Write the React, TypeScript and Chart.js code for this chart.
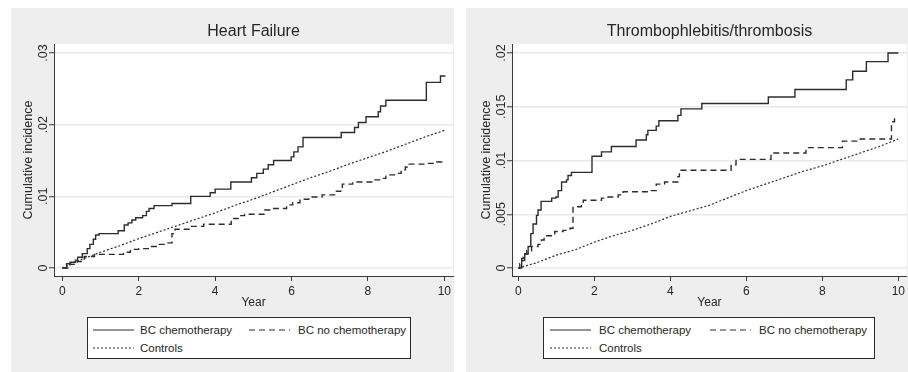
import React, { useEffect, useRef } from "react";
import { Chart, registerables } from "chart.js";

Chart.register(...registerables);

const FONT = '"Liberation Sans", Arial, Helvetica, sans-serif';
const INK = "#262626";
const AXIS = "#3a3a3a";

// ---------- shared axis data ----------
const xTicks = [0, 2, 4, 6, 8, 10];
const xTickLabels = ["0", "2", "4", "6", "8", "10"];
const seriesNames = ["BC chemotherapy", "BC no chemotherapy", "Controls"];
const xTitle = "Year";
const yTitle = "Cumulative incidence";

// ---------- Heart Failure ----------
const hfTitle = "Heart Failure";
const hfYTicks = [0, 0.01, 0.02, 0.03];
const hfYTickLabels = ["0", ".01", ".02", ".03"];

const hfChemoT = [0, 0.11, 0.2, 0.34, 0.4, 0.52, 0.65, 0.72, 0.81, 0.87, 0.96, 1.46, 1.62, 1.72, 1.82, 1.92, 2.1, 2.2, 2.27, 2.4, 2.87, 3.36, 3.87, 4.0, 4.41, 4.95, 5.09, 5.26, 5.39, 5.53, 5.99, 6.06, 6.17, 6.3, 7.3, 7.65, 7.75, 7.95, 8.27, 8.33, 8.47, 9.53, 9.9, 10.03];
const hfChemoV = [0, 0.0006, 0.0008, 0.0011, 0.0015, 0.002, 0.0027, 0.0033, 0.004, 0.0046, 0.0048, 0.0052, 0.006, 0.0063, 0.0067, 0.007, 0.0073, 0.0079, 0.0083, 0.0087, 0.009, 0.01, 0.0105, 0.011, 0.012, 0.0126, 0.0132, 0.0138, 0.0144, 0.015, 0.0155, 0.0162, 0.0169, 0.0182, 0.0189, 0.0196, 0.0203, 0.0211, 0.0218, 0.0226, 0.0234, 0.0259, 0.0268, 0.0268];

const hfNoChemoT = [0, 0.2, 0.39, 0.57, 0.84, 1.6, 1.78, 2.0, 2.27, 2.54, 2.7, 2.87, 2.95, 3.35, 3.7, 4.42, 4.6, 4.77, 5.3, 5.45, 5.87, 6.03, 6.22, 6.45, 6.8, 7.15, 7.29, 7.33, 7.6, 8.1, 8.36, 8.47, 8.78, 8.87, 8.98, 9.03, 9.53, 9.8, 10.0];
const hfNoChemoV = [0, 0.0005, 0.0009, 0.0016, 0.0019, 0.0022, 0.0026, 0.0027, 0.003, 0.0033, 0.0035, 0.0048, 0.0054, 0.0058, 0.0061, 0.0069, 0.0073, 0.0075, 0.0081, 0.0083, 0.0088, 0.0091, 0.0096, 0.0099, 0.0102, 0.0107, 0.011, 0.0117, 0.012, 0.0123, 0.0125, 0.013, 0.0132, 0.0137, 0.0141, 0.0145, 0.0146, 0.0148, 0.015];

const hfControlsT = [0, 0.5, 1, 1.5, 2, 2.5, 3, 3.5, 4, 4.5, 5, 5.5, 6, 6.5, 7, 7.5, 8, 8.5, 9, 9.5, 10];
const hfControlsV = [0, 0.0012, 0.0022, 0.0031, 0.0041, 0.005, 0.0059, 0.0068, 0.0077, 0.0087, 0.0096, 0.0106, 0.0116, 0.0126, 0.0135, 0.0145, 0.0154, 0.0163, 0.0173, 0.0183, 0.0192];

// ---------- Thrombophlebitis/thrombosis ----------
const thTitle = "Thrombophlebitis/thrombosis";
const thYTicks = [0, 0.005, 0.01, 0.015, 0.02];
const thYTickLabels = ["0", ".005", ".01", ".015", ".02"];

const thChemoT = [0, 0.09, 0.17, 0.26, 0.33, 0.39, 0.48, 0.52, 0.6, 0.88, 0.99, 1.05, 1.14, 1.27, 1.31, 1.4, 1.94, 2.19, 2.45, 3.1, 3.37, 3.41, 3.63, 3.7, 4.2, 4.28, 4.83, 6.58, 7.28, 8.63, 8.8, 9.16, 9.73, 10.0];
const thChemoV = [0, 0.0007, 0.0013, 0.002, 0.0032, 0.0041, 0.0049, 0.0054, 0.0062, 0.0065, 0.0066, 0.0072, 0.008, 0.0082, 0.0086, 0.0089, 0.0104, 0.0108, 0.0113, 0.0119, 0.0124, 0.0128, 0.0132, 0.0137, 0.0142, 0.0148, 0.0153, 0.0159, 0.0166, 0.0175, 0.0183, 0.0192, 0.02, 0.02];

const thNoChemoT = [0, 0.04, 0.09, 0.13, 0.17, 0.22, 0.35, 0.52, 0.61, 0.68, 0.96, 1.18, 1.36, 1.44, 1.66, 1.71, 2.19, 2.36, 2.63, 2.76, 3.5, 3.63, 3.85, 4.2, 4.24, 5.6, 5.73, 6.65, 7.57, 8.53, 9.0, 9.82, 9.9];
const thNoChemoV = [0, 0.0004, 0.0009, 0.001, 0.0013, 0.0016, 0.002, 0.0022, 0.0026, 0.003, 0.0034, 0.0035, 0.0037, 0.0057, 0.006, 0.0063, 0.0065, 0.0066, 0.0068, 0.0071, 0.0072, 0.0078, 0.008, 0.0085, 0.0091, 0.0096, 0.0101, 0.0107, 0.0112, 0.0118, 0.012, 0.0136, 0.014];

const thControlsT = [0, 0.5, 1, 1.5, 2, 2.5, 3, 3.5, 4, 4.5, 5, 5.5, 6, 6.5, 7, 7.5, 8, 8.5, 9, 9.5, 10];
const thControlsV = [0, 0.0005, 0.0012, 0.0017, 0.0024, 0.003, 0.0035, 0.0041, 0.0048, 0.0053, 0.0058, 0.0065, 0.0072, 0.0078, 0.0084, 0.009, 0.0095, 0.0101, 0.0107, 0.0113, 0.012];

// ---------- styles ----------
const lineDashes: number[][] = [[], [6, 4], [2, 2]];

const toPts = (t: number[], v: number[]) => t.map((x, i) => ({ x, y: v[i] }));

const plotBg = {
  id: "plotBg",
  beforeDraw(chart: any) {
    const { ctx, chartArea: a } = chart;
    ctx.save();
    ctx.fillStyle = "#ffffff";
    ctx.fillRect(a.left, a.top, a.right - a.left, a.bottom - a.top);
    ctx.restore();
  },
};

type PanelProps = {
  left: number;
  width: number;
  axisLeft: number;
  xMin: number;
  xMax: number;
  yMin: number;
  yMax: number;
  title: string;
  yTicks: number[];
  yTickLabels: string[];
  series: { t: number[]; v: number[] }[];
  legend: { left: number; width: number; s1: number; t1: number; s2: number; t2: number };
};

function Panel(p: PanelProps) {
  const ref = useRef<HTMLCanvasElement>(null);
  useEffect(() => {
    const canvas = ref.current!;
    const tickFont = { family: FONT, size: 12.5 };
    const m = document.createElement("canvas").getContext("2d")!;
    m.font = `12.5px ${FONT}`;
    const widest = Math.max(...p.yTickLabels.map((s) => m.measureText(s).width));
    const yPad = 5.5 - widest / 2;

    const chart = new Chart(canvas, {
      type: "line",
      data: {
        datasets: p.series.map((s, i) => ({
          label: seriesNames[i],
          data: toPts(s.t, s.v),
          borderColor: "#2c2c2c",
          borderWidth: i === 2 ? 1.2 : 1.4,
          borderDash: lineDashes[i],
          pointRadius: 0,
          fill: false,
          tension: 0,
          stepped: i === 2 ? false : true,
        })),
      },
      options: {
        animation: false,
        responsive: false,
        maintainAspectRatio: false,
        devicePixelRatio: 1,
        events: [],
        layout: { padding: { left: 0, right: 0, top: 0, bottom: 62 } },
        plugins: {
          legend: { display: false },
          tooltip: { enabled: false },
          title: {
            display: true,
            text: p.title,
            fullSize: false,
            color: INK,
            font: { family: FONT, size: 16, weight: "normal", lineHeight: 1.2 },
            padding: { top: 14.4, bottom: 2.4 },
          },
        },
        scales: {
          x: {
            type: "linear",
            min: p.xMin,
            max: p.xMax,
            afterBuildTicks: (s: any) => {
              s.ticks = xTicks.map((v) => ({ value: v }));
            },
            afterFit: (s: any) => {
              s.height = 34;
            },
            ticks: {
              autoSkip: false,
              maxRotation: 0,
              padding: 3,
              color: INK,
              font: { family: FONT, size: 12 },
              callback: (_v: any, i: number) => xTickLabels[i],
            },
            grid: { drawOnChartArea: false, drawTicks: true, tickLength: 5, tickColor: AXIS, tickWidth: 1 },
            border: { display: true, color: AXIS, width: 1 },
            title: {
              display: true,
              text: xTitle,
              color: INK,
              font: { family: FONT, size: 12, lineHeight: 1.15 },
              padding: { top: 0, bottom: 0 },
            },
          },
          y: {
            type: "linear",
            min: p.yMin,
            max: p.yMax,
            afterBuildTicks: (s: any) => {
              s.ticks = p.yTicks.map((v) => ({ value: v }));
            },
            afterFit: (s: any) => {
              s.width = p.axisLeft;
            },
            ticks: {
              autoSkip: false,
              minRotation: 90,
              maxRotation: 90,
              crossAlign: "center",
              padding: yPad,
              color: INK,
              font: tickFont,
              callback: (_v: any, i: number) => p.yTickLabels[i],
            },
            grid: { color: "#e9e9e9", lineWidth: 1.5, drawTicks: true, tickLength: 5, tickColor: AXIS, tickWidth: 1 },
            border: { display: true, color: AXIS, width: 1 },
            title: {
              display: true,
              text: yTitle,
              color: INK,
              font: { family: FONT, size: 12.5, lineHeight: 1.2 },
              padding: { top: p.axisLeft - 25 - 7.5, bottom: 0 },
            },
          },
        },
      } as any,
      plugins: [plotBg],
    });
    return () => chart.destroy();
  }, []);

  const lg = p.legend;
  const rowY = [12, 30];
  const sample = (x: number, y: number, dash: number[]) => (
    <svg style={{ position: "absolute", left: x, top: y - 2, overflow: "visible" }} width={41} height={4}>
      <line x1={0} y1={2} x2={41} y2={2} stroke="#2c2c2c" strokeWidth={1.2} strokeDasharray={dash.length ? dash.join(" ") : undefined} />
    </svg>
  );
  const label = (x: number, y: number, text: string) => (
    <span
      style={{
        position: "absolute",
        left: x,
        top: y - 7,
        height: 14,
        lineHeight: "14px",
        fontFamily: FONT,
        fontSize: 11.5,
        color: INK,
        whiteSpace: "nowrap",
      }}
    >
      {text}
    </span>
  );

  return (
    <div style={{ position: "absolute", left: p.left, top: 8, width: p.width, height: 364, background: "#eeeeee" }}>
      <canvas ref={ref} width={p.width} height={364} style={{ position: "absolute", left: 0, top: 0, width: p.width, height: 364 }} />
      <div
        style={{
          position: "absolute",
          left: lg.left,
          top: 309,
          width: lg.width,
          height: 42,
          boxSizing: "border-box",
          border: "1px solid #2a2a2a",
          background: "#ffffff",
        }}
      >
        {sample(lg.s1, rowY[0], lineDashes[0])}
        {label(lg.t1, rowY[0], seriesNames[0])}
        {sample(lg.s2, rowY[0], lineDashes[1])}
        {label(lg.t2, rowY[0], seriesNames[1])}
        {sample(lg.s1, rowY[1], lineDashes[2])}
        {label(lg.t1, rowY[1], seriesNames[2])}
      </div>
    </div>
  );
}

export default function App() {
  return (
    <div style={{ position: "fixed", left: 0, top: 0, width: 908, height: 372, background: "#ffffff", overflow: "hidden" }}>
      <Panel
        left={11}
        width={443}
        axisLeft={43}
        xMin={-0.22}
        xMax={10.23}
        yMin={-0.00112}
        yMax={0.03126}
        title={hfTitle}
        yTicks={hfYTicks}
        yTickLabels={hfYTickLabels}
        series={[
          { t: hfChemoT, v: hfChemoV },
          { t: hfNoChemoT, v: hfNoChemoV },
          { t: hfControlsT, v: hfControlsV },
        ]}
        legend={{ left: 76, width: 324, s1: 5, t1: 52, s2: 161, t2: 210 }}
      />
      <Panel
        left={466}
        width={442}
        axisLeft={46}
        xMin={-0.165}
        xMax={10.228}
        yMin={-0.000744}
        yMax={0.020837}
        title={thTitle}
        yTicks={thYTicks}
        yTickLabels={thYTickLabels}
        series={[
          { t: thChemoT, v: thChemoV },
          { t: thNoChemoT, v: thNoChemoV },
          { t: thControlsT, v: thControlsV },
        ]}
        legend={{ left: 77, width: 332, s1: 6, t1: 55, s2: 166, t2: 215 }}
      />
    </div>
  );
}
